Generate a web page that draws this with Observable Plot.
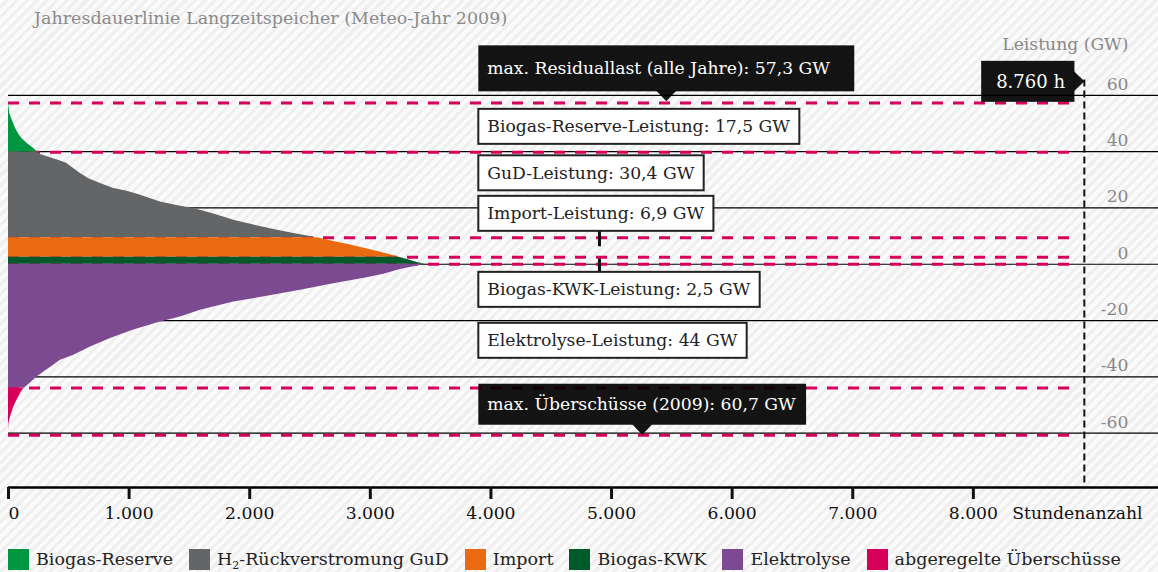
<!DOCTYPE html>
<html>
<head>
<meta charset="utf-8">
<script src="https://cdn.jsdelivr.net/npm/d3@7"></script>
<script src="https://cdn.jsdelivr.net/npm/@observablehq/plot@0.6"></script>
<style>
html, body { margin: 0; padding: 0; }
body {
  width: 1158px; height: 572px; overflow: hidden;
  font-family: "DejaVu Serif", serif;
  background: repeating-linear-gradient(135deg, #fafafa 0px, #fafafa 4px, #efefef 4px, #efefef 7px);
}
#title { height: 30px; box-sizing: border-box; padding: 7px 0 0 34px; font-size: 17.5px; line-height: 22px; color: #8a8a8a; }
#legend { display: flex; align-items: center; height: 37px; box-sizing: border-box; padding: 11px 0 0 8px; font-size: 17.5px; color: #222; }
.item { display: flex; align-items: center; margin-right: 16px; white-space: nowrap; }
.sw { width: 21px; height: 21px; margin-right: 7px; }
sub { font-size: 11px; vertical-align: -4px; line-height: 0; }
</style>
</head>
<body>
<div id="title"></div>
<div id="chart"></div>
<div id="legend"></div>
<script>
// ---------- data ----------
const titleText = "Jahresdauerlinie Langzeitspeicher (Meteo-Jahr 2009)";
const yAxisLabel = "Leistung (GW)";
const xAxisLabel = "Stundenanzahl";

const xTicks = [0, 1000, 2000, 3000, 4000, 5000, 6000, 7000, 8000];
const xTickLabels = ["0", "1.000", "2.000", "3.000", "4.000", "5.000", "6.000", "7.000", "8.000"];
const yTicks = [-60, -40, -20, 0, 20, 40, 60];
const yTickLabels = ["-60", "-40", "-20", "0", "20", "40", "60"];

// sorted residual load (positive part), hours vs GW
const hoursPos = [0, 5, 11, 30, 58, 86, 113, 155, 210, 240, 265, 348, 431, 486, 514, 597, 666, 763, 873, 984,
  1095, 1260, 1426, 1537, 1703, 1868, 2034, 2200, 2366, 2480, 2550, 2587, 2697, 2836, 2974, 3112, 3240, 3306, 3389, 3458];
const residualLoad = [57.3, 55.5, 53.5, 51.2, 48.3, 46.1, 44.6, 42.9, 41.1, 39.8, 39.0, 37.8, 36.7, 35.8, 34.8, 32.2, 30.4, 28.7, 26.9, 25.9,
  24.5, 22.1, 20.6, 19.8, 17.8, 15.6, 13.9, 12.3, 10.9, 10.0, 9.4, 9.1, 8.1, 6.8, 5.4, 4.0, 2.5, 1.7, 0.6, 0];

// sorted surplus (negative part), hours vs GW
const hoursNeg = [0, 1, 3, 17, 44, 72, 100, 122, 133, 182, 238, 293, 348, 431, 542, 680, 846, 1039, 1260, 1426,
  1592, 1868, 2145, 2421, 2697, 2974, 3112, 3250, 3361, 3444];
const surplus = [-60.7, -58.0, -56.6, -54.2, -50.7, -48.1, -45.9, -44.4, -44.0, -42.2, -40.0, -38.3, -36.7, -34.1, -32.3, -29.4, -26.4, -23.4, -20.5, -18.7,
  -16.3, -13.4, -11.4, -9.2, -6.9, -4.8, -3.6, -1.9, -0.9, 0];

// capacities (GW)
const kwkCap = 2.5, importCap = 6.9, gudCap = 30.4, reserveCap = 17.5;
const electrolysisCap = 44, maxResidual = 57.3, maxSurplus = 60.7;
const yearHours = 8760;

const seriesNames = ["Biogas-Reserve", "H<sub>2</sub>-Rückverstromung GuD", "Import", "Biogas-KWK", "Elektrolyse", "abgeregelte Überschüsse"];
const seriesColors = ["#00963f", "#646567", "#e96a10", "#005a2b", "#7c4a91", "#d6005a"];

const noteTexts = [
  "max. Residuallast (alle Jahre): 57,3 GW",
  "Biogas-Reserve-Leistung: 17,5 GW",
  "GuD-Leistung: 30,4 GW",
  "Import-Leistung: 6,9 GW",
  "Biogas-KWK-Leistung: 2,5 GW",
  "Elektrolyse-Leistung: 44 GW",
  "max. Überschüsse (2009): 60,7 GW"
];
const noteHour = 3970;
const noteLevels = [69.4, 48.8, 32.3, 17.9, -9.1, -27.2, -49.9];
const hourNote = "8.760 h";
const hourNoteLevel = 64.7;
const markerHour = 8920;
const connectorHour = 4900;
const connectorSegments = [[11.7, 6.2], [1.8, -2.8]];

// ---------- derived ----------
const kwkTop = kwkCap, importTop = kwkTop + importCap, gudTop = importTop + gudCap, reserveTop = gudTop + reserveCap;
const clamp = (v, lo, hi) => Math.max(lo, Math.min(hi, v));
const pos = hoursPos.map((h, i) => ({h, t: residualLoad[i]}));
const neg = hoursNeg.map((h, i) => ({h, t: surplus[i]}));
const posBands = [
  {lo: gudTop, hi: reserveTop, c: 0},
  {lo: importTop, hi: gudTop, c: 1},
  {lo: kwkTop, hi: importTop, c: 2},
  {lo: 0, hi: kwkTop, c: 3}
];
const negBands = [
  {lo: -electrolysisCap, hi: 0, c: 4},
  {lo: -maxSurplus, hi: -electrolysisCap, c: 5}
];
const dashedLevels = [reserveTop, gudTop, importTop, kwkTop, 0, -electrolysisCap, -maxSurplus];

const yMin = -79.3, yMax = 80, xMax = 9535;
const magenta = "#d6005a";

document.getElementById("title").textContent = titleText;

const chart = Plot.plot({
  width: 1158, height: 505,
  marginLeft: 8, marginRight: 0, marginTop: 8.5, marginBottom: 48,
  x: {domain: [0, xMax], label: null},
  y: {domain: [yMin, yMax], axis: null, label: null},
  style: {background: "transparent", fontFamily: "DejaVu Serif", fontSize: "17.2px", overflow: "visible"},
  marks: [
    Plot.ruleY(yTicks, {stroke: "#000", strokeWidth: 1.2}),
    Plot.ruleY(dashedLevels, {x1: 0, x2: 8870, stroke: magenta, strokeWidth: 3, strokeDasharray: "11,10"}),
    ...posBands.map(b => Plot.areaY(pos, {x: "h", y1: b.lo, y2: d => clamp(d.t, b.lo, b.hi), fill: seriesColors[b.c]})),
    ...negBands.map(b => Plot.areaY(neg, {x: "h", y1: b.hi, y2: d => clamp(d.t, b.lo, b.hi), fill: seriesColors[b.c]})),
    Plot.ruleX(connectorSegments, {x: connectorHour, y1: d => d[0], y2: d => d[1], stroke: "#111", strokeWidth: 3}),
    Plot.ruleX([markerHour], {y1: 65.4, y2: yMin, stroke: "#111", strokeWidth: 2, strokeDasharray: "7,4"}),
    Plot.ruleY([yMin], {stroke: "#000", strokeWidth: 2.5}),
    Plot.axisX({ticks: xTicks, tickSize: 12, tickPadding: 7, strokeWidth: 3, color: "#111", label: null,
      tickFormat: d => d === 0 ? "" : xTickLabels[xTicks.indexOf(d)]}),
    Plot.text([xTickLabels[0]], {x: xTicks[0], y: yMin, text: d => d, textAnchor: "start", lineAnchor: "middle", dy: 25.8, fill: "#111"}),
    Plot.text([xAxisLabel], {frameAnchor: "bottom-right", text: d => d, textAnchor: "end", lineAnchor: "middle", dx: -16, dy: 25.8, fill: "#111"}),
    Plot.text(yTicks, {y: d => d, text: (d, i) => yTickLabels[i], frameAnchor: "right", textAnchor: "end", lineAnchor: "middle", dx: -30, dy: -11, fill: "#888"}),
    Plot.text([yAxisLabel], {frameAnchor: "top-right", text: d => d, textAnchor: "end", lineAnchor: "middle", dx: -30, dy: 5.3, fill: "#888"}),
    ...noteTexts.map((t, i) => Plot.text([t], {x: noteHour, y: noteLevels[i], text: d => d, textAnchor: "start", lineAnchor: "middle",
      fill: (i === 0 || i === 6) ? "#fff" : "#222"})),
    Plot.text([hourNote], {x: yearHours, y: hourNoteLevel, text: d => d, textAnchor: "end", lineAnchor: "middle", fill: "#fff", fontSize: "18px"})
  ]
});
document.getElementById("chart").append(chart);

// boxes behind annotation texts (matched by their text)
const NS = "http://www.w3.org/2000/svg";
const noteStyles = new Map([
  [noteTexts[0], {dark: true, padL: 9, padR: 24, padV: 13, pointer: "down"}],
  [noteTexts[1], {dark: false, padL: 9, padR: 9, padV: 7.5}],
  [noteTexts[2], {dark: false, padL: 9, padR: 9, padV: 7.5}],
  [noteTexts[3], {dark: false, padL: 9, padR: 9, padV: 7.5}],
  [noteTexts[4], {dark: false, padL: 9, padR: 9, padV: 7.5}],
  [noteTexts[5], {dark: false, padL: 9, padR: 9, padV: 7.5}],
  [noteTexts[6], {dark: true, padL: 9, padR: 10, padV: 10.5, pointer: "down"}],
  [hourNote, {dark: true, padL: 15, padR: 9, padV: 10, pointer: "right"}]
]);
chart.querySelectorAll("text").forEach(t => {
  const s = noteStyles.get(t.textContent);
  if (!s) return;
  const b = t.getBBox();
  const x0 = b.x - s.padL, x1 = b.x + b.width + s.padR, y0 = b.y - s.padV, y1 = b.y + b.height + s.padV;
  const tr = t.getAttribute("transform");
  const rect = document.createElementNS(NS, "rect");
  rect.setAttribute("x", x0); rect.setAttribute("y", y0);
  rect.setAttribute("width", x1 - x0); rect.setAttribute("height", y1 - y0);
  if (s.dark) { rect.setAttribute("fill", "#000"); rect.setAttribute("fill-opacity", 0.92); }
  else { rect.setAttribute("fill", "#fff"); rect.setAttribute("stroke", "#222"); rect.setAttribute("stroke-width", 2); }
  if (tr) rect.setAttribute("transform", tr);
  t.parentNode.insertBefore(rect, t);
  if (s.pointer) {
    const p = document.createElementNS(NS, "path");
    let d;
    if (s.pointer === "down") { const cx = (x0 + x1) / 2; d = `M${cx - 10},${y1 - 0.5}L${cx + 10},${y1 - 0.5}L${cx},${y1 + 10}Z`; }
    else { const cy = (y0 + y1) / 2; d = `M${x1 - 0.5},${cy - 10}L${x1 - 0.5},${cy + 10}L${x1 + 10},${cy}Z`; }
    p.setAttribute("d", d); p.setAttribute("fill", "#000"); p.setAttribute("fill-opacity", 0.92);
    if (tr) p.setAttribute("transform", tr);
    t.parentNode.insertBefore(p, t);
  }
});

// legend
const legend = document.getElementById("legend");
seriesNames.forEach((n, i) => {
  const it = document.createElement("div"); it.className = "item";
  it.innerHTML = `<div class="sw" style="background:${seriesColors[i]}"></div><span>${n}</span>`;
  legend.append(it);
});
</script>
</body>
</html>
